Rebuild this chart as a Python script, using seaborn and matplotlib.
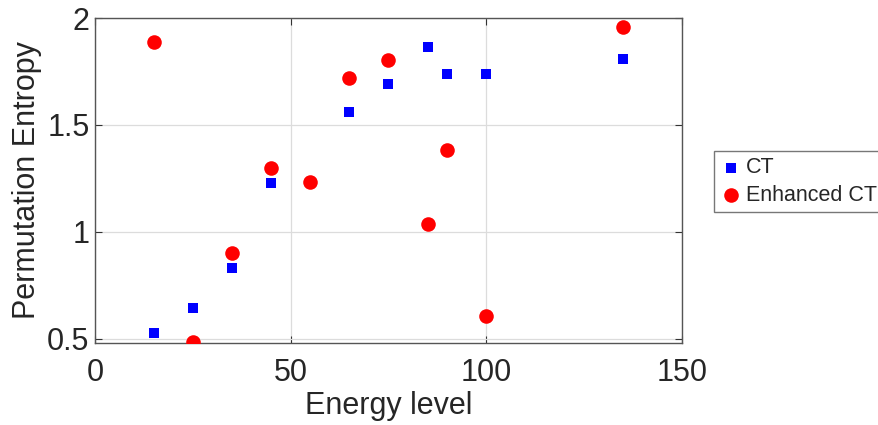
import matplotlib
matplotlib.use("Agg")
import matplotlib.pyplot as plt
import seaborn as sns
import pandas as pd

ct_energy = [15, 25, 35, 45, 65, 75, 85, 90, 100, 135]
ct_entropy = [0.525, 0.645, 0.833, 1.230, 1.561, 1.692, 1.864, 1.738, 1.738, 1.807]
enh_energy = [15, 25, 35, 45, 55, 65, 75, 85, 90, 100, 135]
enh_entropy = [1.889, 0.483, 0.903, 1.298, 1.234, 1.720, 1.804, 1.037, 1.383, 0.607, 1.957]
series_names = ["CT", "Enhanced CT"]
x_ticks = [0, 50, 100, 150]
y_ticks = [0.5, 1, 1.5, 2]

sns.set_theme(style="white")
plt.rcParams['font.family'] = ['Liberation Sans', 'DejaVu Sans']

df = pd.concat([
    pd.DataFrame({"Energy level": ct_energy, "Permutation Entropy": ct_entropy, "Series": series_names[0]}),
    pd.DataFrame({"Energy level": enh_energy, "Permutation Entropy": enh_entropy, "Series": series_names[1]}),
], ignore_index=True)

fig = plt.figure(figsize=(8.79, 4.25), dpi=100)
ax = fig.add_axes([95/879, 1-343/425, (682-95)/879, (343-18)/425])

sns.scatterplot(data=df[df.Series == "CT"], x="Energy level", y="Permutation Entropy",
                color="#0000FF", marker="s", s=62, linewidth=0, ax=ax, label="CT", zorder=3)
sns.scatterplot(data=df[df.Series == "Enhanced CT"], x="Energy level", y="Permutation Entropy",
                color="#FF0000", marker="o", s=110, linewidth=0, ax=ax, label="Enhanced CT", zorder=3)

ax.set_xlim(0, 150)
ax.set_ylim(0.48, 2)
ax.set_xticks(x_ticks)
ax.set_xticklabels([str(t) for t in x_ticks])
ax.set_yticks(y_ticks)
ax.set_yticklabels(["0.5", "1", "1.5", "2"])
ax.grid(True, color="#dcdcdc", linewidth=0.9)
ax.set_axisbelow(True)
for sp in ax.spines.values():
    sp.set_color("#555555")
    sp.set_linewidth(1.0)
ax.tick_params(direction="in", length=5, width=0.8, color="#333333", labelsize=22,
               labelcolor="#262626", top=True, right=True, bottom=True, left=True,
               labeltop=False, labelright=False)
ax.tick_params(axis="x", pad=11)
ax.tick_params(axis="y", pad=4)
ax.set_xlabel("Energy level", fontsize=22, color="#262626", labelpad=2)
ax.set_ylabel("Permutation Entropy", fontsize=22, color="#262626", labelpad=4)

leg = ax.legend(loc="upper left", bbox_to_anchor=(714/879, 1-151/425),
                bbox_transform=fig.transFigure, borderaxespad=0, fontsize=15.5,
                frameon=True, fancybox=False, handletextpad=0.2, handlelength=1.0,
                borderpad=0.3, labelspacing=0.3)
leg.get_frame().set_edgecolor("#555555")
leg.get_frame().set_linewidth(1.0)

fig.savefig("out.png", dpi=100)
